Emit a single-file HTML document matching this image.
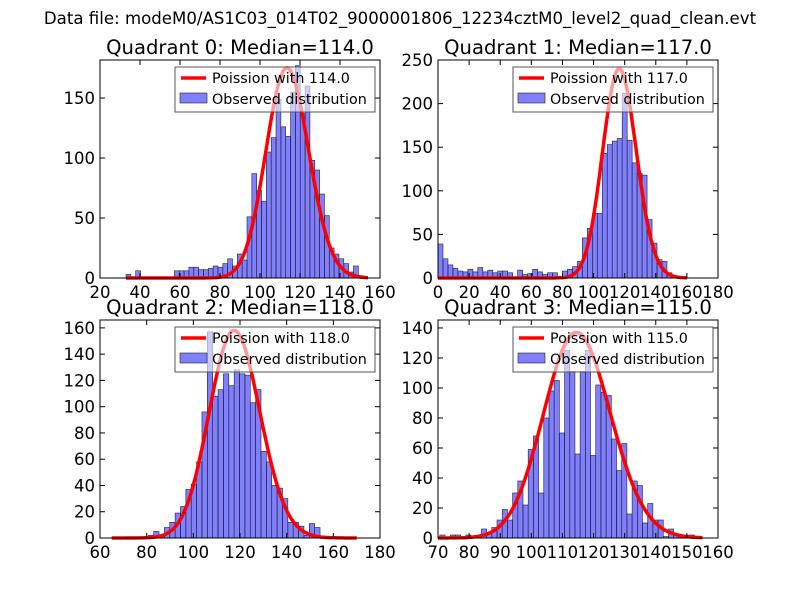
<!DOCTYPE html>
<html><head><meta charset="utf-8"><style>
body{margin:0;background:#fff;width:800px;height:600px;overflow:hidden}
svg{font-family:"DejaVu Sans","Liberation Sans",sans-serif}
</style></head><body>
<svg id="fig" width="800" height="600" xmlns="http://www.w3.org/2000/svg">
<rect width="800" height="600" fill="#fff"/>
<text x="400" y="24" font-size="16.6" text-anchor="middle">Data file: modeM0/AS1C03_014T02_9000001806_12234cztM0_level2_quad_clean.evt</text>
</svg>
<script>
const counts0=[3,0,6,0,0,1,1,0,0,0,6,6,6,9,9,7,7,8,10,9,12,16,10,20,15,51,87,73,64,105,117,149,126,118,155,177,137,160,98,90,70,52,25,20,16,12,5,10,2,0];
const counts1=[39,22,15,11,8,7,10,7,12,7,9,6,8,8,6,0,9,4,5,10,7,4,6,6,0,8,10,13,19,46,57,74,74,143,153,157,160,212,158,132,120,118,67,40,21,19,6,2,1,0];
const counts2=[1,1,0,0,2,5,1,8,12,19,24,37,41,58,96,157,108,113,125,116,128,125,124,103,113,66,58,40,38,30,12,12,9,2,11,8];
const counts3=[2,0,2,2,0,2,0,1,6,3,7,12,19,12,30,38,22,59,68,30,80,98,105,70,125,111,56,111,125,55,102,97,95,66,45,63,16,38,35,10,23,12,12,1,6,2,1,0,2,0];
const binStarts=[33,0,71.5,70.6];
const binWidths=[2.42,3.2,2.3,1.67];
const medians=[114,117,118,115];
const curvePeaks=[175,240,158,137];
const curveRanges=[[33,154],[0,160],[65,170],[70,155]];
const xTicks=[[20,40,60,80,100,120,140,160],[0,20,40,60,80,100,120,140,160,180],[60,80,100,120,140,160,180],[70,80,90,100,110,120,130,140,150,160]];
const yTicks=[[0,50,100,150],[0,50,100,150,200,250],[0,20,40,60,80,100,120,140,160],[0,20,40,60,80,100,120,140]];
const xDomains=[[20,160],[0,180],[60,180],[70,160]];
const yMaxes=[181.7,250,166,145.3];
const allCounts=[counts0,counts1,counts2,counts3];
const NS="http://www.w3.org/2000/svg";
const svg=document.getElementById('fig');
function mk(tag,attrs,parent){const e=document.createElementNS(NS,tag);for(const k in attrs)e.setAttribute(k,attrs[k]);(parent||svg).appendChild(e);return e;}
function lgam(x){
  const c=[76.18009172947146,-86.50532032941677,24.01409824083091,-1.231739572450155,0.1208650973866179e-2,-0.5395239384953e-5];
  let y=x,t=x+5.5;t-=(x+0.5)*Math.log(t);let s=1.000000000190015;for(let j=0;j<6;j++)s+=c[j]/++y;return -t+Math.log(2.5066282746310005*s/x);}
const boxes=[[100,60],[438,60],[100,320],[438,320]];
const W=280,H=218;
for(let q=0;q<4;q++){
  const [L,T]=boxes[q];
  const g=mk('g',{});
  
  
  const [x0,x1]=xDomains[q];
  const sx=v=>L+(v-x0)/(x1-x0)*W;
  const sy=v=>T+H-v/yMaxes[q]*H;
  const c=allCounts[q];
  for(let i=0;i<c.length;i++){
    if(c[i]<=0)continue;
    const a=binStarts[q]+i*binWidths[q];
    const r=mk('rect',{x:sx(a),y:sy(c[i]),width:sx(a+binWidths[q])-sx(a),height:sy(0)-sy(c[i]),fill:'rgba(0,0,255,0.5)',stroke:'#222','stroke-width':0.6},g);
    
    
  }
  const m=medians[q];const lpk=Math.floor(m)*Math.log(m)-m-lgam(Math.floor(m)+1);
  let pts=[];
  for(let k=curveRanges[q][0];k<=curveRanges[q][1];k++){
    const lp=k*Math.log(m)-m-lgam(k+1);
    pts.push(sx(k).toFixed(1)+','+sy(curvePeaks[q]*Math.exp(lp-lpk)).toFixed(1));
  }
  const cv=mk('polyline',{points:pts.join(' '),fill:'none',stroke:'#f00','stroke-width':3.5,'stroke-linejoin':'round'},g);
  
  
  const fr=mk('rect',{x:L,y:T,width:W,height:H,fill:'none',stroke:'#000','stroke-width':1},g);
  
  
  xTicks[q].forEach(v=>{const x=sx(v);
    mk('line',{x1:x,x2:x,y1:T+H,y2:T+H-5,stroke:'#000'},g);mk('line',{x1:x,x2:x,y1:T,y2:T+5,stroke:'#000'},g);
    const t=mk('text',{x:x,y:T+H+20,'font-size':16.5,'text-anchor':'middle'},g);t.textContent=v;
    
    });
  yTicks[q].forEach(v=>{const y=sy(v);
    mk('line',{x1:L,x2:L+5,y1:y,y2:y,stroke:'#000'},g);mk('line',{x1:L+W,x2:L+W-5,y1:y,y2:y,stroke:'#000'},g);
    const t=mk('text',{x:L-5,y:y+6,'font-size':16.5,'text-anchor':'end'},g);t.textContent=v;
    
    });
  const ti=mk('text',{x:L+W/2,y:T-6,'font-size':19.6,'text-anchor':'middle'},g);ti.textContent='Quadrant '+q+': Median='+m.toFixed(1);
  
  
  const lg=mk('g',{},g);
  
  
  const lx=L+75,ly=T+7;
  mk('rect',{x:lx,y:ly,width:200,height:45,fill:'rgba(255,255,255,0.6)',stroke:'#555','stroke-width':1},lg);
  mk('line',{x1:lx+6,x2:lx+31,y1:ly+11,y2:ly+11,stroke:'#f00','stroke-width':3.5},lg);
  const t1=mk('text',{x:lx+37,y:ly+16,'font-size':14.3},lg);t1.textContent='Poission with '+m.toFixed(1);
  
  
  mk('rect',{x:lx+5,y:ly+26,width:27,height:10,fill:'rgba(0,0,255,0.5)',stroke:'#222','stroke-width':0.6},lg);
  const t2=mk('text',{x:lx+37,y:ly+37,'font-size':14.3},lg);t2.textContent='Observed distribution';
  
  
}
</script>
</body></html>
